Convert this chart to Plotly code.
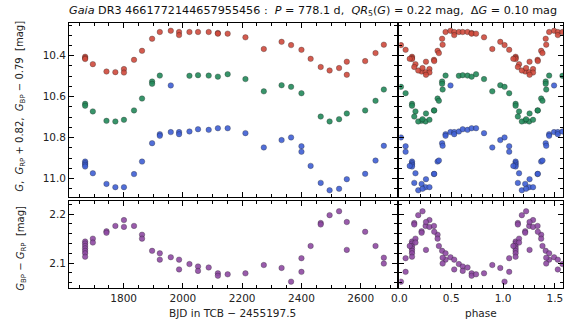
import plotly.graph_objects as go

# ---------------- data ----------------
PERIOD = 778.1
T0 = 1575.5

t_rp = [1670, 1670, 1670, 1696, 1742, 1772, 1801, 1801, 1835, 1862, 1896, 1922, 1959, 1987, 1987,
        2022, 2051, 2087, 2118, 2118, 2151, 2211, 2273, 2333, 2365, 2400, 2431, 2465, 2495, 2527,
        2553, 2553, 2615, 2650, 2678]
rp_mag = [10.405, 10.411, 10.416, 10.441, 10.477, 10.480, 10.465, 10.482, 10.420, 10.376, 10.317,
          10.284, 10.278, 10.284, 10.299, 10.284, 10.284, 10.284, 10.289, 10.292, 10.292, 10.310,
          10.367, 10.332, 10.348, 10.371, 10.415, 10.455, 10.472, 10.460, 10.429, 10.493, 10.426,
          10.387, 10.346]

t_g = [1670, 1670, 1696, 1742, 1772, 1801, 1835, 1862, 1896, 1896, 1922, 2022, 2051, 2087, 2118,
       2151, 2211, 2273, 2333, 2365, 2400, 2465, 2495, 2527, 2553, 2615, 2650, 2678]
g_mag = [10.635, 10.644, 10.672, 10.718, 10.721, 10.713, 10.667, 10.609, 10.526, 10.537, 10.497,
         10.498, 10.495, 10.497, 10.502, 10.490, 10.514, 10.574, 10.544, 10.552, 10.583, 10.697,
         10.721, 10.710, 10.682, 10.667, 10.620, 10.565]

t_bp = [1670, 1670, 1670, 1670, 1696, 1742, 1772, 1801, 1835, 1862, 1896, 1922, 1922, 1959, 1959,
        1987, 1987, 2022, 2051, 2087, 2118, 2151, 2211, 2273, 2333, 2365, 2400, 2400, 2431, 2465,
        2495, 2527, 2553, 2615, 2650, 2678]
bp_mag = [10.917, 10.925, 10.933, 10.941, 10.974, 11.026, 11.042, 11.042, 10.978, 10.917, 10.827,
          10.783, 10.791, 10.773, 10.545, 10.773, 10.783, 10.770, 10.759, 10.762, 10.754, 10.754,
          10.778, 10.848, 10.812, 10.799, 10.842, 10.869, 10.938, 11.021, 11.057, 11.050, 11.003,
          10.977, 10.912, 10.840]

t_col = [1670] * 7 + [1696, 1696, 1742, 1742, 1772, 1801, 1801, 1835, 1862, 1862, 1896, 1922, 1922,
                      1959, 1987, 1987, 2022, 2051, 2051, 2087, 2118, 2118, 2151, 2211, 2273, 2333,
                      2365, 2400, 2400, 2431, 2465, 2465, 2495, 2527, 2553, 2553, 2615, 2650, 2678, 2678]
col = [2.144, 2.140, 2.135, 2.130, 2.125, 2.120, 2.113,
       2.150, 2.142, 2.165, 2.162, 2.176, 2.188, 2.174, 2.176, 2.158, 2.150, 2.125, 2.120, 2.107,
       2.112, 2.107, 2.087, 2.098, 2.093, 2.084, 2.091, 2.079, 2.074, 2.077, 2.079, 2.096, 2.090,
       2.062, 2.110, 2.082, 2.135, 2.182, 2.179, 2.198, 2.206, 2.184, 2.127, 2.164, 2.135, 2.111,
       2.099]

xticks_time = [1800, 2000, 2200, 2400, 2600]
xticks_phase = [0.0, 0.5, 1.0, 1.5]

RED = "#cf4a3c"
GREEN = "#23895a"
BLUE = "#3f5fd4"
PURPLE = "#8e4aa3"


def phases(ts):
    ph = [((t - T0) / PERIOD) % 1.0 for t in ts]
    return ph + [p + 1.0 for p in ph]


W, H = 570, 334


def px(x):
    return x / W


def py(y):
    return 1 - y / H


fig = go.Figure()

mk = lambda c: dict(color=c, size=5.5, opacity=0.9, line=dict(color="rgba(20,20,20,0.55)", width=0.6))

series = [(t_rp, rp_mag, RED), (t_g, g_mag, GREEN), (t_bp, bp_mag, BLUE)]
for ts, vs, c in series:
    fig.add_trace(go.Scatter(x=ts, y=vs, mode="markers", marker=mk(c), xaxis="x", yaxis="y",
                             showlegend=False, hoverinfo="skip"))
    fig.add_trace(go.Scatter(x=phases(ts), y=vs + vs, mode="markers", marker=mk(c), xaxis="x2",
                             yaxis="y2", showlegend=False, hoverinfo="skip"))

fig.add_trace(go.Scatter(x=t_col, y=col, mode="markers", marker=mk(PURPLE), xaxis="x3", yaxis="y3",
                         showlegend=False, hoverinfo="skip"))
fig.add_trace(go.Scatter(x=phases(t_col), y=col + col, mode="markers", marker=mk(PURPLE), xaxis="x4",
                         yaxis="y4", showlegend=False, hoverinfo="skip"))

FONT = "DejaVu Sans"
tickfont = dict(family=FONT, size=10.5, color="#222")


def ax(**kw):
    d = dict(showline=True, linecolor="black", linewidth=1, mirror="allticks", ticks="inside",
             ticklen=5, tickwidth=1, tickcolor="black", showgrid=False, zeroline=False,
             tickfont=tickfont)
    d.update(kw)
    return d


dom_main = [px(62), px(395)]
dom_phase = [px(397), px(563)]
dom_top = [py(197), py(23)]
dom_bot = [py(288), py(201)]

yr_top = [11.09, 10.24]
yr_bot = [2.049, 2.227]
xr_time = [1616, 2724]
xr_phase = [0, 1.58]

minor = lambda d: dict(ticks="inside", ticklen=3, tickwidth=1, tickcolor="black", dtick=d, showgrid=False)

fig.update_layout(
    width=W, height=H, margin=dict(l=0, r=0, t=0, b=0),
    paper_bgcolor="white", plot_bgcolor="white",
    xaxis=ax(domain=dom_main, anchor="y", range=xr_time, tickvals=xticks_time, showticklabels=False,
             minor=minor(50)),
    yaxis=ax(domain=dom_top, anchor="x", range=yr_top, tick0=10.0, dtick=0.2, tickformat=".1f",
             minor=minor(0.05)),
    xaxis2=ax(domain=dom_phase, anchor="y2", range=xr_phase, tickvals=xticks_phase, showticklabels=False,
              minor=minor(0.1)),
    yaxis2=ax(domain=dom_top, anchor="x2", range=yr_top, tick0=10.0, dtick=0.2, showticklabels=False,
              minor=minor(0.05)),
    xaxis3=ax(domain=dom_main, anchor="y3", range=xr_time, tickvals=xticks_time, minor=minor(50)),
    yaxis3=ax(domain=dom_bot, anchor="x3", range=yr_bot, tick0=2.0, dtick=0.1, tickformat=".1f",
              minor=minor(0.02)),
    xaxis4=ax(domain=dom_phase, anchor="y4", range=xr_phase, tickvals=xticks_phase, tickformat=".1f",
              minor=minor(0.1)),
    yaxis4=ax(domain=dom_bot, anchor="x4", range=yr_bot, tick0=2.0, dtick=0.1, showticklabels=False,
              minor=minor(0.02)),
)

lab = dict(family=FONT, size=10, color="#222")
ann = [
    dict(text="<i>Gaia</i> DR3 4661772144657955456 :  <i>P</i> = 778.1 d,  <i>QR</i><sub>5</sub>(<i>G</i>) = 0.22 mag,  Δ<i>G</i> = 0.10 mag",
         x=px(309), y=py(11), xanchor="center", yanchor="middle", font=dict(family=FONT, size=11.2, color="#111")),
    dict(text="<i>G</i>,  <i>G</i><sub>RP</sub> + 0.82,  <i>G</i><sub>BP</sub> − 0.79  [mag]",
         x=px(13), y=py(106), textangle=-90, xanchor="center", yanchor="middle", font=lab),
    dict(text="<i>G</i><sub>BP</sub> − <i>G</i><sub>RP</sub>  [mag]",
         x=px(13), y=py(248), textangle=-90, xanchor="center", yanchor="middle", font=lab),
    dict(text="BJD in TCB − 2455197.5", x=px(228), y=py(313), xanchor="center", yanchor="middle",
         font=dict(family=FONT, size=10.5, color="#222")),
    dict(text="phase", x=px(480), y=py(313), xanchor="center", yanchor="middle",
         font=dict(family=FONT, size=10.5, color="#222")),
]
for a in ann:
    a.update(xref="paper", yref="paper", showarrow=False)
fig.update_layout(annotations=ann)

fig.write_html("out.html")
